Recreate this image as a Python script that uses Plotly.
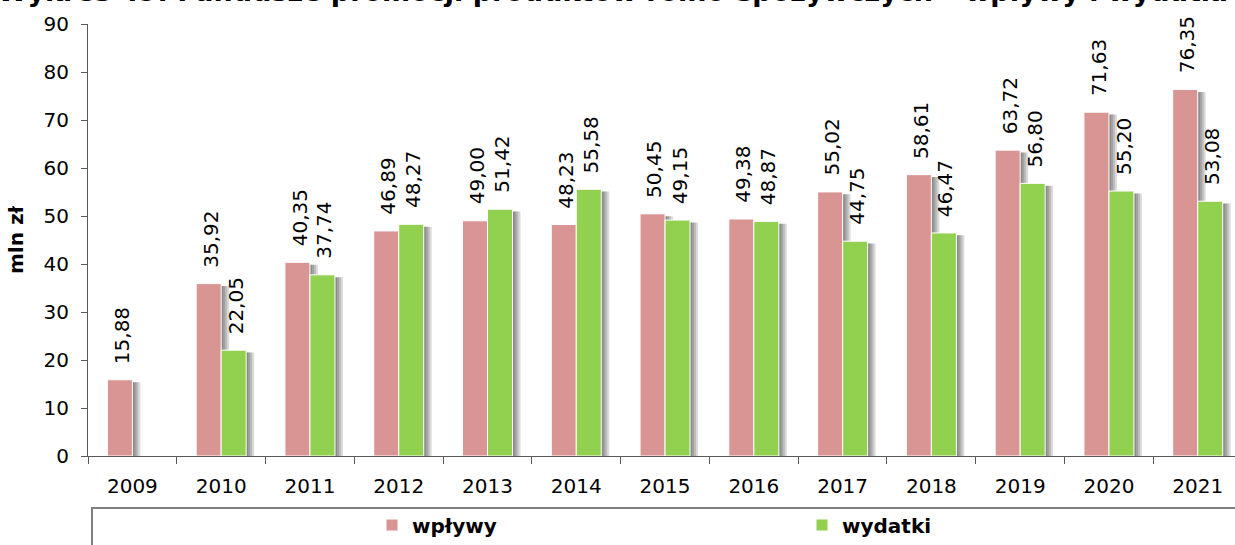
import plotly.graph_objects as go

# Fundusze promocji – wpływy i wydatki (mln zł)
years = ["2009", "2010", "2011", "2012", "2013", "2014", "2015",
         "2016", "2017", "2018", "2019", "2020", "2021"]
wplywy = [15.88, 35.92, 40.35, 46.89, 49.00, 48.23, 50.45,
          49.38, 55.02, 58.61, 63.72, 71.63, 76.35]
wydatki = [None, 22.05, 37.74, 48.27, 51.42, 55.58, 49.15,
           48.87, 44.75, 46.47, 56.80, 55.20, 53.08]

PINK = "#D99594"
GREEN = "#92D050"
FONT = "DejaVu Sans"

W, H = 1235, 545
ML, MT, MB = 88, 24, 89
plot_w = W - ML
plot_h = H - MT - MB
x_range = [-0.5, 12.42]
px_per_cat = plot_w / (x_range[1] - x_range[0])


def px_x(px):
    """Horizontal pixel position -> paper fraction."""
    return (px - ML) / plot_w


def px_y(py):
    """Vertical pixel position (from top) -> paper fraction."""
    return (H - MB - py) / plot_h


bar_w = 25 / px_per_cat
series = [
    ("wpływy", wplywy, PINK, -bar_w, "legend"),
    ("wydatki", wydatki, GREEN, 0.0, "legend2"),
]

fig = go.Figure()

# soft drop shadows to the right of each bar
for name, vals, color, off, leg in series:
    for d in (2, 4, 6, 8):
        fig.add_bar(
            x=years,
            y=[None if v is None else v - 0.5 for v in vals],
            offset=off + d / px_per_cat,
            width=bar_w,
            marker=dict(color="rgba(0,0,0,0.14)", line=dict(width=0)),
            showlegend=False,
            hoverinfo="skip",
        )

for name, vals, color, off, leg in series:
    fig.add_bar(
        x=years,
        y=vals,
        name=name,
        offset=off,
        width=bar_w,
        legend=leg,
        marker=dict(color=color, line=dict(color="white", width=1)),
    )

# rotated value labels above bars (x given as category serial number)
annotations = []
for name, vals, color, off, leg in series:
    xshift = (off + bar_w / 2) * px_per_cat
    for i, v in enumerate(vals):
        if v is None:
            continue
        annotations.append(dict(
            x=i, y=v, xref="x", yref="y",
            text=f"{v:.2f}".replace(".", ","),
            textangle=-90, showarrow=False,
            xanchor="center", yanchor="bottom",
            xshift=xshift + 2, yshift=14,
            font=dict(family=FONT, size=20, color="black"),
        ))

legend_style = dict(
    orientation="h", xanchor="left",
    y=px_y(544.5), yanchor="bottom",
    bgcolor="rgba(0,0,0,0)", borderwidth=0,
    font=dict(family=FONT, size=20, color="black", weight="bold"),
)

fig.update_layout(
    width=W, height=H,
    margin=dict(l=ML, r=0, t=MT, b=MB, pad=0),
    paper_bgcolor="white", plot_bgcolor="white",
    barmode="overlay",
    font=dict(family=FONT, size=20, color="black"),
    title=dict(
        text="<b>Wykres 49. Fundusze promocji produktów rolno-spożywczych – wpływy i wydatki</b>",
        font=dict(family=FONT, size=27, color="black"),
        x=1228 / W, xanchor="right", xref="container",
        y=1 - 3 / H, yanchor="bottom", yref="container",
        pad=dict(b=2),
    ),
    xaxis=dict(
        type="category", range=x_range, autorange=False,
        showline=True, linecolor="#595959", linewidth=1,
        ticks="outside", tickson="boundaries", ticklen=7, tickcolor="#595959",
        ticklabelstandoff=12,
        showgrid=False, zeroline=False,
        tickfont=dict(family=FONT, size=20),
    ),
    yaxis=dict(
        range=[0, 90], autorange=False, tickvals=list(range(0, 91, 10)),
        showline=True, linecolor="#595959", linewidth=1,
        ticks="outside", ticklen=6, tickcolor="#595959",
        ticklabelstandoff=8,
        showgrid=False, zeroline=False,
        tickfont=dict(family=FONT, size=20),
        title=dict(text="<b>mln zł</b>", font=dict(family=FONT, size=20), standoff=14),
    ),
    legend=dict(x=px_x(397 - 25), **legend_style),
    legend2=dict(x=px_x(827 - 25), **legend_style),
    annotations=annotations,
    shapes=[dict(
        type="rect", xref="paper", yref="paper",
        x0=px_x(92), x1=px_x(1300),
        y0=px_y(508), y1=px_y(620),
        line=dict(color="#7f7f7f", width=2), fillcolor="rgba(0,0,0,0)",
        layer="below",
    )],
)

fig.write_html("out.html")
